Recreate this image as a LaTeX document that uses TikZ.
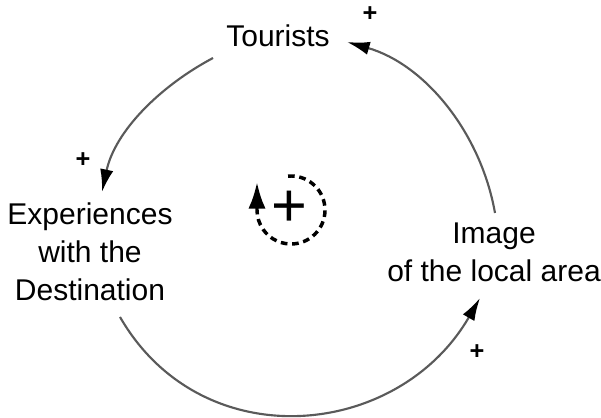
\documentclass[tikz,border=0pt]{standalone}
\usepackage{fontspec}
\setmainfont{Liberation Sans}
\usetikzlibrary{arrows.meta, positioning, calc}
\definecolor{linkgray}{HTML}{5A5A5A}
\definecolor{ink}{HTML}{000000}

\begin{document}
\begin{tikzpicture}[x=0.75pt, y=0.75pt,
  var/.style={text=ink, font=\fontsize{22.5}{28.5}\selectfont, align=center, inner sep=0pt},
  sign/.style={text=ink, font=\fontsize{19}{19}\selectfont\bfseries, inner sep=0pt},
  link/.style={linkgray, line width=1.6pt, -{Latex[length=17pt, width=10pt, color=ink]}}]

\useasboundingbox (0,0) rectangle (601,418);

% Variables
\node[var] (tour) at (278,382) {Tourists};
\node[var] (exp) at (90,166) {Experiences\\with the\\Destination};
\node[var] (img) at (494,166) {Image\\of the local area};

% Link end points
\coordinate (tour-out) at (213,360);
\coordinate (exp-in) at (102,226);
\coordinate (exp-out) at (120,101);
\coordinate (img-in) at (480,120);
\coordinate (img-out) at (495,205);
\coordinate (tour-in) at (347,376);

% Causal links
\draw[link] (tour-out) to[out=208, in=78, looseness=0.9] (exp-in);
\draw[link] (exp-out) to[out=-60, in=240, looseness=1.16] (img-in);
\draw[link] (img-out) to[out=100, in=-16, looseness=0.92] (tour-in);

% Polarity signs
\node[sign] (s1) at (370,404) {+};
\node[sign] (s2) at (83,258) {+};
\node[sign] (s3) at (477,66) {+};

% Loop marker
\coordinate (loop) at (291,208);
\node[text=ink, font=\fontsize{46}{46}\selectfont, inner sep=0pt] (lp) at (289,209) {+};
\draw[ink, line width=2.6pt, dash pattern=on 5pt off 3.5pt, -{Latex[length=20pt, width=13pt]}]
  ($(loop)+(95:34)$) arc[start angle=95, end angle=-180, radius=34] -- ++(0,28);

\end{tikzpicture}
\end{document}
